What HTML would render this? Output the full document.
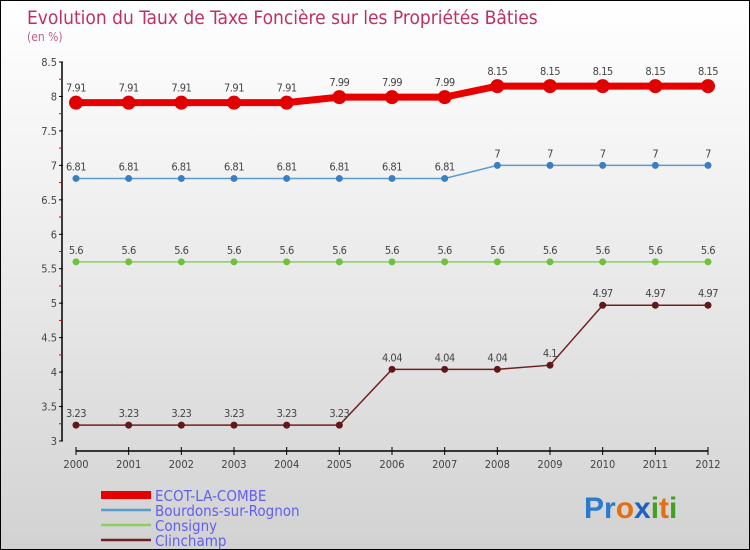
<!DOCTYPE html>
<html><head><meta charset="utf-8"><style>
body{margin:0}
#c{width:750px;height:550px;position:relative;box-sizing:border-box;border:1px solid #000;background:linear-gradient(#fff,#f3f3f3 30%,#d2d2d2);font-family:"DejaVu Sans Condensed","Liberation Sans",sans-serif;overflow:hidden}
</style></head><body>
<div id="c">
<svg id="s" width="750" height="550" style="position:absolute;left:0;top:0">
<text x="26" y="23" font-size="19" fill="#c0305f" font-family="DejaVu Sans Condensed, Liberation Sans, sans-serif">Evolution du Taux de Taxe Foncière sur les Propriétés Bâties</text>
<text x="26" y="40" font-size="12" fill="#c0608a">(en %)</text>
<g id="g"></g>
<text x="583" y="517" font-size="30" font-weight="bold" font-family="Liberation Sans, sans-serif"><tspan fill="#2a7ad0">Pr</tspan><tspan fill="#e07010">o</tspan><tspan fill="#2060c0">x</tspan><tspan fill="#40a020">i</tspan><tspan fill="#e07010">t</tspan><tspan fill="#40a020">i</tspan></text>
</svg>
</div>
<script>
const years=[2000,2001,2002,2003,2004,2005,2006,2007,2008,2009,2010,2011,2012];
const yTicks=[3,3.5,4,4.5,5,5.5,6,6.5,7,7.5,8,8.5];
const names=["ECOT-LA-COMBE","Bourdons-sur-Rognon","Consigny","Clinchamp"];
const ecot=[7.91,7.91,7.91,7.91,7.91,7.99,7.99,7.99,8.15,8.15,8.15,8.15,8.15];
const bourdons=[6.81,6.81,6.81,6.81,6.81,6.81,6.81,6.81,7,7,7,7,7];
const consigny=[5.6,5.6,5.6,5.6,5.6,5.6,5.6,5.6,5.6,5.6,5.6,5.6,5.6];
const clinchamp=[3.23,3.23,3.23,3.23,3.23,3.23,4.04,4.04,4.04,4.1,4.97,4.97,4.97];
const series=[ecot,bourdons,consigny,clinchamp];
const colors=["#e80000","#5b9bd0","#8ad05a","#702020"];
const dots=["#e00000","#3a80c0","#70c040","#601818"];
const widths=[7,1.5,1.5,1.5];
const radii=[7,3.5,3.5,3.5];
const X=i=>75+i*(707-75)/(years.length-1);
const Y=v=>440-(v-3)*(440-61)/5.5;
const NS="http://www.w3.org/2000/svg";
const g=document.getElementById('g');
function mk(t,a,p){const e=document.createElementNS(NS,t);for(const k in a)e.setAttribute(k,a[k]);(p||g).appendChild(e);return e;}
function fmt(v){return String(v).replace(/^(\d)\.(\d)0$/,'$1.$2');}
// y axis
let ax=mk('line',{x1:61,y1:61,x2:61,y2:440,stroke:'#000','stroke-width':1.5});


yTicks.forEach(t=>{
 mk('line',{x1:58,y1:Y(t),x2:62,y2:Y(t),stroke:'#000'});
 if(t<8.5) mk('line',{x1:58,y1:Y(t+0.25),x2:61,y2:Y(t+0.25),stroke:'#e00000'});
 const tx=mk('text',{x:56,y:Y(t)+4,'font-size':11,fill:'#444','text-anchor':'end'});
 tx.textContent=t;
 
 
});
let xa=mk('line',{x1:75,y1:450,x2:707,y2:450,stroke:'#000','stroke-width':1.5});


years.forEach((y,i)=>{
 mk('line',{x1:X(i),y1:446,x2:X(i),y2:454,stroke:'#000'});
 const tx=mk('text',{x:X(i),y:467,'font-size':11,fill:'#444','text-anchor':'middle'});
 tx.textContent=y;
 
 
});
series.forEach((d,s)=>{
 const pl=mk('polyline',{points:d.map((v,i)=>X(i)+','+Y(v)).join(' '),fill:'none',stroke:colors[s],'stroke-width':widths[s]});
 
 
 d.forEach((v,i)=>{
  const c=mk('circle',{cx:X(i),cy:Y(v),r:radii[s],fill:dots[s]});
  
  
  const t=mk('text',{x:X(i),y:Y(v)-(s==0?11:8),'font-size':11,fill:'#444','text-anchor':'middle','letter-spacing':'-0.5'});
  t.textContent=fmt(v);
  
  
 });
});
names.forEach((n,s)=>{
 const y=494+s*15;
 const l=mk('line',{x1:100,y1:y,x2:150,y2:y,stroke:colors[s],'stroke-width':s==0?8:2.5});
 
 
 const t=mk('text',{x:154,y:y+6,'font-size':15,fill:'#6060f0'});
 t.textContent=n;
 
 
});
</script>
</body></html>
